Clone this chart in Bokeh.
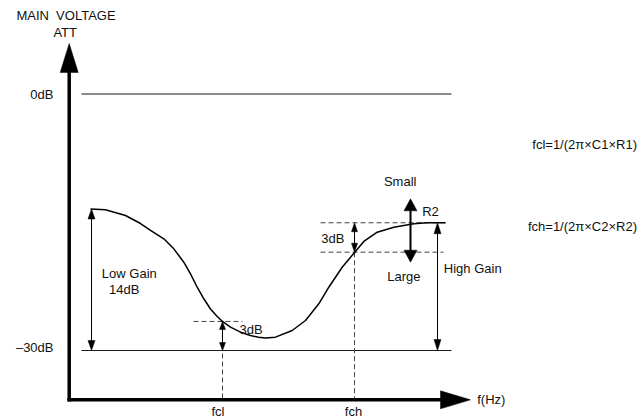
from bokeh.plotting import figure
from bokeh.models import Range1d
from bokeh.embed import file_html
from bokeh.resources import INLINE
from bokeh.core.properties import value

# ---------------- data (x: log-frequency position units, y: attenuation in dB) ----------------
curve_x = [90, 105, 125, 140, 150, 163.3, 173.3, 183.3, 190, 196.7, 203.3, 210, 216.7, 221.7,
           230, 240, 250, 258, 265, 275, 291.7, 305, 318.3, 328.3, 341.7, 354.3, 363.3, 376.7,
           393.3, 413.3, 426.7, 445]
curve_db = [-13.45, -13.54, -14.21, -15.15, -15.96, -16.94, -18.11, -19.67, -21.03, -22.60,
            -23.95, -25.15, -26.02, -26.57, -27.27, -27.86, -28.25, -28.44, -28.54, -28.44,
            -27.66, -26.49, -24.54, -22.60, -20.26, -18.50, -17.25, -16.16, -15.58, -15.18,
            -15.06, -15.06]

level_labels = ["0dB", "\u201330dB"]
level_db = [0, -30]
ref_line_x = [81, 451]

fcl_x, fch_x = 222, 354
fcl_db = -26.6            # low-frequency -3 dB point
fch_low_db = -18.5        # high-frequency -3 dB point
high_gain_db = -15.06     # high-frequency plateau
low_gain_db = -13.45      # low-frequency plateau
low_gain_x = 91
high_gain_x = 437
r2_x = 410
r2_top_db, r2_bot_db = -12.26, -19.67

formulas = ["fcl=1/(2\u03c0\u00d7C1\u00d7R1)", "fch=1/(2\u03c0\u00d7C2\u00d7R2)"]
formula_db = [-5.91, -15.5]

# ---------------- layout ----------------
X0, X1 = 0, 642
H = 419
PPD = 8.55                    # pixels per dB
Y_TOP = 93.5 / PPD
Y_BOT = Y_TOP - H / PPD
W = X1 - X0

AX_X = 68.7                   # y axis position
AX_DB = -35.77                # x axis level
FONT = value("Liberation Sans")
FS = value("13px")
TXT = "#111111"

p = figure(width=W, height=H, x_range=Range1d(X0, X1), y_range=Range1d(Y_BOT, Y_TOP),
           output_backend="svg", toolbar_location=None, min_border=0,
           x_axis_type=None, y_axis_type=None)
p.grid.visible = False
p.outline_line_color = None
p.background_fill_color = "white"
p.border_fill_color = "white"

heads_x, heads_y = [], []


def head(xt, yt, direction, length, width):
    if direction == "up":
        heads_x.append([xt, xt - width / 2, xt + width / 2])
        heads_y.append([yt, yt - length / PPD, yt - length / PPD])
    elif direction == "down":
        heads_x.append([xt, xt - width / 2, xt + width / 2])
        heads_y.append([yt, yt + length / PPD, yt + length / PPD])
    else:
        heads_x.append([xt, xt - length, xt - length])
        heads_y.append([yt, yt + width / 2 / PPD, yt - width / 2 / PPD])


# reference level lines (0 dB, -30 dB)
p.segment(x0=[ref_line_x[0]] * 2, x1=[ref_line_x[1]] * 2, y0=level_db, y1=level_db,
          line_color="#1a1a1a", line_width=1.1)

# dashed -3dB guides
dash_x0 = [193, 320, 320, fcl_x, fch_x]
dash_x1 = [242, 445, 443, fcl_x, fch_x]
dash_y0 = [fcl_db, high_gain_db, fch_low_db, fcl_db, fch_low_db]
dash_y1 = [fcl_db, high_gain_db, fch_low_db, AX_DB, AX_DB]
p.segment(x0=dash_x0, x1=dash_x1, y0=dash_y0, y1=dash_y1,
          line_color="#444444", line_width=1, line_dash="5 3")

# response curve
p.line(curve_x, curve_db, line_color="black", line_width=1.5, line_join="round")

# double arrows (thin)
arr = [
    (low_gain_x, low_gain_db, -30, 10, 7),
    (fcl_x, fcl_db, -30, 8, 6),
    (fch_x, high_gain_db, fch_low_db, 9, 6),
    (high_gain_x, high_gain_db, -30, 11, 7),
]
for xa, ytop, ybot, L, Wd in arr:
    p.segment(x0=[xa], x1=[xa], y0=[ytop - L / PPD * 0.5], y1=[ybot + L / PPD * 0.5],
              line_color="black", line_width=1)
    head(xa, ytop, "up", L, Wd)
    head(xa, ybot, "down", L, Wd)

# R2 arrow
p.segment(x0=[r2_x], x1=[r2_x], y0=[r2_top_db - 6 / PPD], y1=[r2_bot_db + 6 / PPD],
          line_color="black", line_width=2)
head(r2_x, r2_top_db, "up", 12, 13)
head(r2_x, r2_bot_db, "down", 12, 13)

# axes
p.segment(x0=[AX_X], x1=[AX_X], y0=[AX_DB - 1.7 / PPD], y1=[3.0],
          line_color="black", line_width=3.5)
p.segment(x0=[AX_X - 1.8], x1=[442], y0=[AX_DB], y1=[AX_DB],
          line_color="black", line_width=3.5)
head(AX_X, 5.91, "up", 29, 18)
head(470, AX_DB, "right", 30, 18)

p.patches(heads_x, heads_y, fill_color="black", line_color="black", line_width=0.5)

# texts
def txt(x, y, s, align="left", baseline="middle"):
    p.text(x=[x], y=[y], text=[s], text_font=FONT, text_font_size=FS, text_color=TXT,
           text_align=align, text_baseline=baseline)


txt(65.5, 9.18, "MAIN\u00a0 VOLTAGE", "center")
txt(64.7, 7.23, "ATT", "center")
txt(53, level_db[0], level_labels[0], "right")
txt(53, level_db[1] + 0.4, level_labels[1], "right")
txt(128.8, -20.94, "Low Gain", "center")
txt(123.7, -22.89, "14dB", "center")
txt(239, -27.54, "3dB")
txt(320.7, -16.9, "3dB")
txt(399.7, -10.27, "Small", "center")
txt(421.7, -13.74, "R2")
txt(403.3, -21.35, "Large", "center")
txt(443.3, -20.44, "High Gain")
txt(217.5, -37.13, "fcl", "center", "middle")
txt(353, -37.13, "fch", "center", "middle")
txt(476.7, AX_DB, "f(Hz)")
for s, yv in zip(formulas, formula_db):
    txt(636.5, yv, s, "right")

open("out.html", "w").write(file_html(p, INLINE))
